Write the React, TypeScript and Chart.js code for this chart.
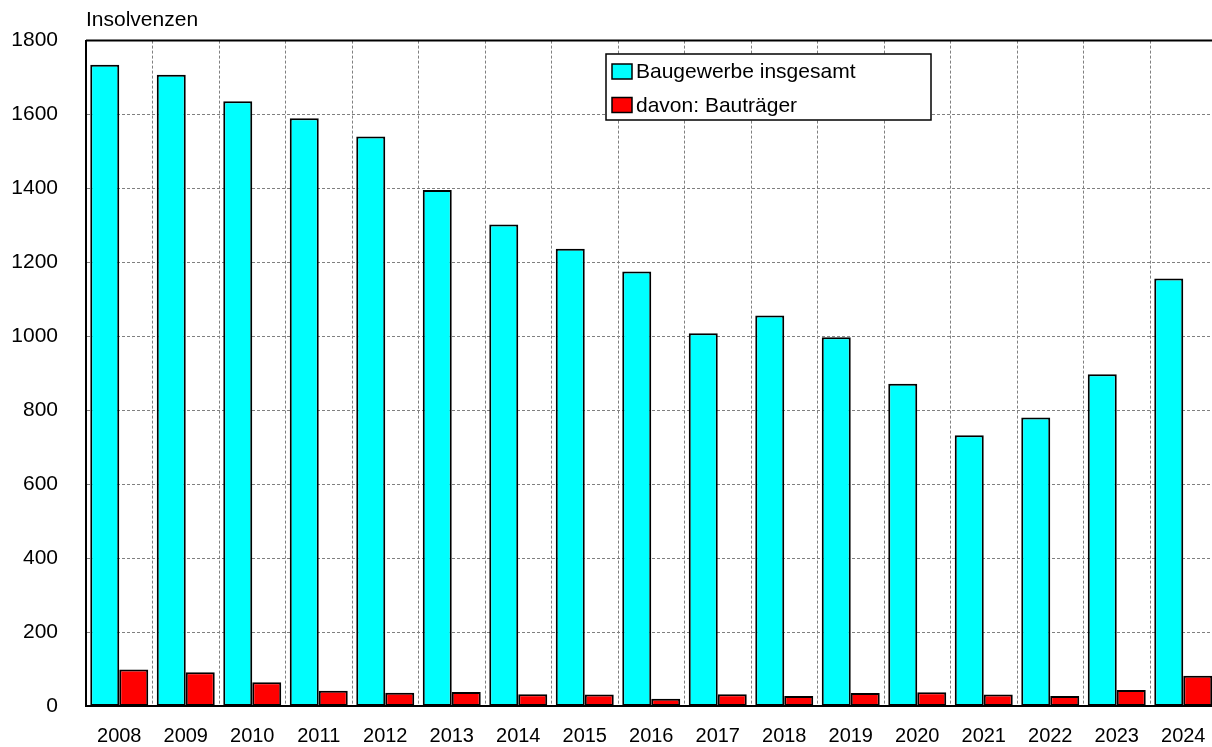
import React, { useEffect, useRef } from "react";
import { Chart, registerables } from "chart.js";

Chart.register(...registerables);

const years = ["2008","2009","2010","2011","2012","2013","2014","2015","2016","2017","2018","2019","2020","2021","2022","2023","2024"];
const baugewerbe = [1735,1708,1636,1590,1541,1396,1303,1237,1176,1009,1057,998,872,733,781,898,1157];
const bautraeger = [100,92,65,42,37,39,33,32,21,33,28,36,38,32,28,44,83];
const yTicks = { min: 0, max: 1800, step: 200 };
const seriesLabels = ["Baugewerbe insgesamt", "davon: Bauträger"];
const axisTitle = "Insolvenzen";

const FONT = "Arial, 'Liberation Sans', sans-serif";

const decorPlugin = {
  id: "decor",
  afterDraw(chart: any) {
    const { ctx, chartArea } = chart;
    ctx.save();
    // top border
    ctx.strokeStyle = "#000";
    ctx.lineWidth = 2;
    ctx.setLineDash([]);
    ctx.beginPath();
    ctx.moveTo(chartArea.left, chartArea.top);
    ctx.lineTo(chartArea.right, chartArea.top);
    ctx.stroke();
    // axis title
    ctx.fillStyle = "#000";
    ctx.font = `21px ${FONT}`;
    ctx.textAlign = "left";
    ctx.textBaseline = "alphabetic";
    ctx.fillText(axisTitle, 86, 26);
    // legend
    const lx = 606, ly = 54, lw = 325, lh = 66;
    ctx.fillStyle = "#fff";
    ctx.fillRect(lx, ly, lw, lh);
    ctx.lineWidth = 1.5;
    ctx.strokeStyle = "#000";
    ctx.strokeRect(lx, ly, lw, lh);
    const ds = chart.data.datasets;
    ds.forEach((d: any, i: number) => {
      const cy = ly + 17.5 + i * 33.5;
      ctx.fillStyle = d.backgroundColor;
      ctx.fillRect(612, cy - 7.5, 20, 15);
      ctx.lineWidth = 1.5;
      ctx.strokeStyle = "#000";
      ctx.strokeRect(612, cy - 7.5, 20, 15);
      ctx.fillStyle = "#000";
      ctx.font = `21px ${FONT}`;
      ctx.textBaseline = "middle";
      ctx.fillText(d.label, 636, cy + 1);
    });
    ctx.restore();
  },
};

export default function App() {
  const ref = useRef<HTMLCanvasElement>(null);
  useEffect(() => {
    if (!ref.current) return;
    const chart = new Chart(ref.current, {
      type: "bar",
      data: {
        labels: years,
        datasets: [
          {
            label: seriesLabels[0],
            data: baugewerbe,
            backgroundColor: "#00FFFF",
            borderColor: "#000",
            borderWidth: 2,
            borderSkipped: false,
            categoryPercentage: 0.872,
            barPercentage: 1,
          },
          {
            label: seriesLabels[1],
            data: bautraeger,
            backgroundColor: "#FF0000",
            borderColor: "#000",
            borderWidth: 2,
            borderSkipped: false,
            categoryPercentage: 0.872,
            barPercentage: 1,
          },
        ],
      },
      options: {
        animation: false,
        responsive: false,
        maintainAspectRatio: false,
        layout: { padding: { left: 0, top: 40, right: 9.5, bottom: 0 } },
        plugins: {
          legend: { display: false },
          tooltip: { enabled: false },
          title: { display: false },
        },
        scales: {
          x: {
            grid: { color: "#808080", lineWidth: 1, drawTicks: false, offset: true },
            border: { color: "#000", width: 2, dash: [3, 2] },
            ticks: { color: "#000", font: { family: FONT, size: 20 }, padding: 18, maxRotation: 0, autoSkip: false },
            afterFit(scale: any) { scale.height = 39; },
          },
          y: {
            min: yTicks.min,
            max: yTicks.max,
            grid: { color: "#808080", lineWidth: 1, drawTicks: false },
            border: { color: "#000", width: 2, dash: [3, 2] },
            ticks: {
              stepSize: yTicks.step,
              color: "#000",
              font: { family: FONT, size: 21 },
              padding: 28,
              callback: (v: any) => String(v),
            },
            afterFit(scale: any) { scale.width = 86; },
          },
        },
      },
      plugins: [decorPlugin],
    });
    return () => chart.destroy();
  }, []);
  return (
    <div style={{ position: "fixed", left: 0, top: 0, width: 1212, height: 747, overflow: "hidden", background: "#fff" }}>
      <canvas ref={ref} width={1226} height={747} style={{ display: "block", width: 1226, height: 747 }} />
    </div>
  );
}
